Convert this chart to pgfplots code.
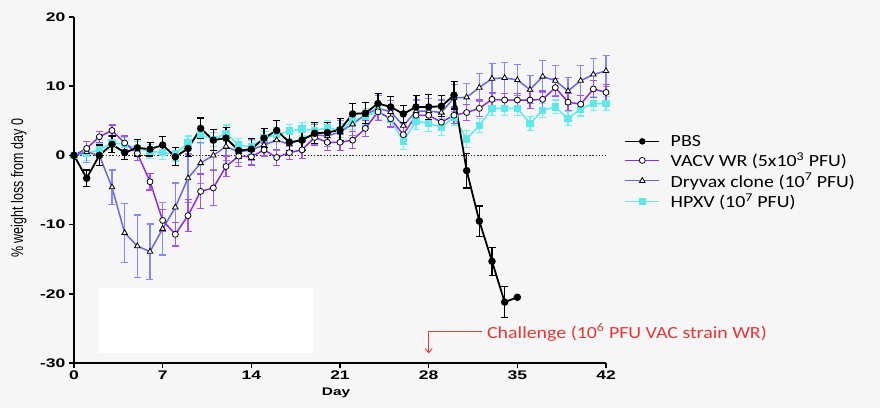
\documentclass[border=0pt]{standalone}
\usepackage{fontspec}
\setmainfont{Liberation Sans}
\newfontfamily\tickfont[FakeStretch=1.4]{Liberation Sans}
\newfontfamily\calfont[FakeStretch=1.17]{Carlito}
\usepackage{graphicx}
\usepackage{pgfplots}
\pgfplotsset{compat=1.18}
\usepackage{pgfplotstable}
\usetikzlibrary{arrows.meta}
\definecolor{bgc}{RGB}{246,246,246}
\definecolor{vacv}{RGB}{140,45,220}
\definecolor{vacve}{RGB}{165,80,235}
\definecolor{dry}{RGB}{105,105,220}
\definecolor{drye}{RGB}{135,135,240}
\definecolor{hpxv}{RGB}{95,232,235}
\definecolor{hpxve}{RGB}{110,240,242}
\definecolor{chal}{RGB}{225,55,55}

\pgfplotstableread{
x y e
0 0 0
1 -3.3 1.2
2 0 1.5
3 1.6 1.2
4 0.4 1.0
5 1.1 1.2
6 0.9 1.0
7 1.5 1.2
8 -0.2 1.3
9 1.0 1.2
10 3.9 1.5
11 2.2 1.5
12 2.5 1.5
13 0.7 1.2
14 0.9 1.5
15 2.5 1.4
16 3.6 1.5
17 1.9 1.2
18 2.2 1.5
19 3.2 1.5
20 3.3 1.5
21 3.7 1.6
22 6.0 1.5
23 6.1 1.5
24 7.5 1.5
25 7.0 1.5
26 6.0 1.2
27 7.0 1.6
28 7.0 1.8
29 7.1 1.5
30 8.7 2.0
31 -2.2 2.5
32 -9.5 2.2
33 -15.3 2.0
34 -21.2 2.2
35 -20.5 0
}\pbs

\pgfplotstableread{
x y e
0 0 0
1 1.0 1.0
2 2.7 0.8
3 3.6 0.8
4 1.8 1.0
5 0.3 1.0
6 -3.8 1.2
7 -9.4 1.6
8 -11.4 1.7
9 -8.7 2.3
10 -5.2 2.5
11 -4.7 2.5
12 -1.6 1.5
13 -0.1 1.5
14 -0.2 1.2
15 0.8 1.0
16 -0.3 1.2
17 0.4 1.0
18 0.8 1.2
19 2.6 1.2
20 1.9 1.2
21 1.9 1.2
22 2.2 1.2
23 3.9 1.2
24 6.3 1.2
25 5.3 1.2
26 3.0 1.2
27 5.8 1.2
28 5.8 1.2
29 4.8 1.2
30 5.8 1.2
31 6.2 1.2
32 6.8 1.2
33 8.1 1.0
34 8.0 1.0
35 8.0 1.0
36 8.0 1.2
37 8.1 1.2
38 9.8 1.3
39 7.7 1.2
40 7.4 1.2
41 9.6 1.2
42 9.1 1.2
}\vacvt

\pgfplotstableread{
x y e
0 0 0
1 0.5 1.5
2 0.0 1.5
3 -4.6 2.5
4 -11.2 4.3
5 -13.1 4.5
6 -13.9 4.0
7 -10.6 3.8
8 -7.5 3.5
9 -3.3 3.5
10 -1.1 3.0
11 0.0 2.0
12 1.3 2.0
13 0.5 1.5
14 0.8 1.5
15 1.5 1.5
16 2.2 1.5
17 1.6 1.5
18 2.4 1.5
19 3.0 1.5
20 2.8 1.5
21 3.4 1.6
22 4.5 1.6
23 5.9 1.8
24 6.8 1.8
25 6.3 1.6
26 4.3 1.6
27 6.4 1.6
28 6.4 1.8
29 6.2 1.8
30 8.3 2.0
31 8.4 2.0
32 9.8 2.0
33 11.1 2.2
34 11.2 2.2
35 10.9 2.2
36 9.5 2.0
37 11.4 2.3
38 10.8 2.2
39 9.3 2.0
40 10.8 2.2
41 11.7 2.3
42 12.2 2.2
}\dryt

\pgfplotstableread{
x y e
0 0 0
1 0.3 1.0
2 0.8 1.0
3 1.8 1.0
4 1.6 1.0
5 1.0 1.0
6 0.6 1.0
7 0.4 1.0
8 0.2 1.0
9 1.8 1.0
10 3.0 1.2
11 2.3 1.0
12 3.2 1.2
13 1.5 1.0
14 1.2 1.0
15 2.5 1.0
16 3.0 1.0
17 3.5 1.0
18 3.8 1.0
19 3.6 1.0
20 4.0 1.0
21 3.6 1.0
22 5.0 1.2
23 5.6 1.2
24 6.4 1.2
25 5.2 1.2
26 2.0 1.2
27 5.0 1.2
28 4.6 1.2
29 4.1 1.2
30 5.5 1.2
31 2.4 1.2
32 4.3 1.0
33 6.8 1.0
34 6.8 1.0
35 6.8 1.0
36 4.6 1.0
37 6.5 1.0
38 7.0 1.0
39 5.3 1.0
40 6.7 1.0
41 7.5 1.0
42 7.5 1.0
}\hpxvt

\begin{document}
\begin{tikzpicture}
\fill[bgc] (0,0) rectangle (880pt,408pt);
\useasboundingbox (0,0) rectangle (880pt,408pt);
\begin{axis}[
  at={(74pt,45pt)}, anchor=south west,
  scale only axis, width=532pt, height=346pt,
  xmin=0, xmax=42, ymin=-30, ymax=20,
  axis x line*=bottom, axis y line*=left,
  axis line style={line width=1.8pt, -},
  xtick={0,7,...,42}, ytick={-30,-20,...,20},
  xticklabels={0,7,14,21,28,35,42},
  yticklabels={{-30},{-20},{-10},{0},{10},{20}},
  /pgf/number format/assume math mode=true,
  tick align=outside, major tick length=5pt,
  tick style={black, line width=1.5pt},
  ticklabel style={font=\tickfont\bfseries\fontsize{12.5}{12.5}\selectfont},
  xticklabel style={yshift=1pt},
  xlabel={Day},
  xlabel style={font=\tickfont\bfseries\fontsize{11}{11}\selectfont, at={(axis description cs:0.4925,-0.087)}, anchor=center},
  ylabel={\scalebox{1}[1.35]{\% weight loss from day 0}},
  ylabel style={font=\fontsize{12.5}{12.5}\selectfont, at={(axis description cs:-0.104,0.505)}, anchor=center},
  reverse legend,
  legend style={at={(axis description cs:1.035,0.665)}, anchor=north west, draw=none, fill=none, inner sep=0pt,
    font=\calfont\fontsize{17}{19}\selectfont, cells={anchor=west}, row sep=1pt,
    /tikz/every odd column/.append style={column sep=9pt}},
  legend image code/.code={\draw[mark repeat=2,mark phase=2, line width=0.9pt] plot coordinates {(0pt,0pt) (17pt,0pt) (34pt,0pt)};},
  clip=false,
]
\fill[white] (axis cs:2,-19.2) rectangle (axis cs:18.9,-28.6);
\draw[black!85, line width=1.5pt, dash pattern=on 1.4pt off 1.8pt] (axis cs:0,0) -- (axis cs:42,0);

\addplot[color=hpxv, line width=1.5pt, mark=square*, mark size=3pt, mark options={fill=hpxv, draw=hpxv},
  error bars/.cd, y dir=both, y explicit,
  error bar style={color=hpxve, line width=1.2pt},
  error mark options={color=hpxve, line width=1.2pt, mark size=3.5pt, rotate=90}]
  table[x=x, y=y, y error=e] {\hpxvt};
\addlegendentry{HPXV (10\textsuperscript{7} PFU)}

\addplot[color=dry, line width=1.5pt, mark=triangle*, mark size=3.2pt, mark options={fill=white, draw=black, line width=0.8pt},
  error bars/.cd, y dir=both, y explicit,
  error bar style={color=drye, line width=1.2pt},
  error mark options={color=drye, line width=1.2pt, mark size=3.5pt, rotate=90}]
  table[x=x, y=y, y error=e] {\dryt};
\addlegendentry{Dryvax clone (10\textsuperscript{7} PFU)}

\addplot[color=vacv, line width=1.5pt, mark=*, mark size=3pt, mark options={fill=white, draw=black, line width=0.8pt},
  error bars/.cd, y dir=both, y explicit,
  error bar style={color=vacve, line width=1.2pt},
  error mark options={color=vacve, line width=1.2pt, mark size=3.5pt, rotate=90}]
  table[x=x, y=y, y error=e] {\vacvt};
\addlegendentry{VACV WR (5x10\textsuperscript{3} PFU)}

\addplot[color=black, line width=1.8pt, mark=*, mark size=2.8pt,
  error bars/.cd, y dir=both, y explicit,
  error bar style={color=black, line width=1.2pt},
  error mark options={color=black, line width=1.2pt, mark size=3.5pt, rotate=90}]
  table[x=x, y=y, y error=e] {\pbs};
\addlegendentry{PBS}

\draw[chal, line width=0.9pt, -{Straight Barb[length=4pt,width=7pt]}] (axis cs:32.2,-25.4) -- (axis cs:28,-25.4) -- (axis cs:28,-28.6);
\node[chal, anchor=west, inner sep=0pt, font=\calfont\fontsize{17}{17}\selectfont] at (axis cs:32.6,-25.6) {Challenge (10\textsuperscript{6} PFU VAC strain WR)};
\end{axis}
\end{tikzpicture}
\end{document}
